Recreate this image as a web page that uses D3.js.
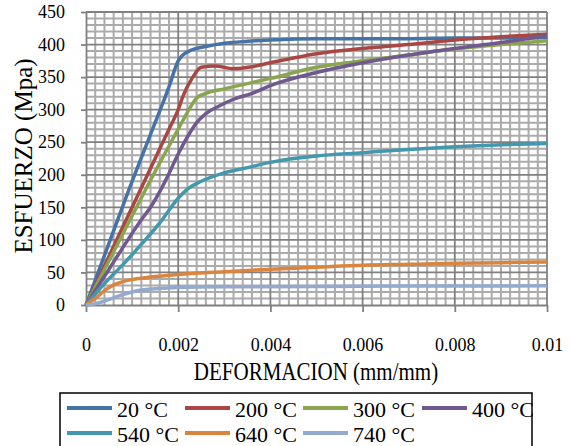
<!DOCTYPE html>
<html lang="es">
<head>
<meta charset="UTF-8"/>
<title>Esfuerzo - Deformacion</title>
<script src="https://d3js.org/d3.v7.min.js"></script>
<style>
  body { margin: 0; background: #fff; }
  text { font-family: "Liberation Serif", "Times New Roman", serif; fill: #000; }
</style>
</head>
<body>
<script>
// strain (mm/mm) and stress (MPa)
var xTicks = [0, 0.002, 0.004, 0.006, 0.008, 0.01];
var xTickLabels = ["0", "0.002", "0.004", "0.006", "0.008", "0.01"];
var yTicks = [0, 50, 100, 150, 200, 250, 300, 350, 400, 450];

var labels = ["20 °C", "200 °C", "300 °C", "400 °C", "540 °C", "640 °C", "740 °C"];
var colors = ["#4572A7", "#AA4643", "#89A54E", "#71588F", "#4198AF", "#DB843D", "#93A9CF"];

var s20 = [[0,0],[0.0005,95],[0.001,190],[0.0014,262],[0.0018,335],[0.002,375],[0.0021,384],[0.0023,392],
  [0.0026,397],[0.003,402],[0.0035,405],[0.004,407],[0.005,409],[0.006,409],[0.007,409],[0.008,410],[0.009,410],[0.01,411]];
var s200 = [[0,0],[0.0008,120],[0.0016,240],[0.0018,270],[0.002,300],[0.0021,320],[0.0023,348],[0.0025,365],
  [0.0028,367],[0.0032,363],[0.0036,366],[0.004,372],[0.005,386],[0.006,394],[0.007,400],[0.008,407],[0.009,412],[0.01,416]];
var s300 = [[0,0],[0.0005,68],[0.001,137],[0.0015,205],[0.002,270],[0.0022,296],[0.0024,318],[0.0026,325],
  [0.003,332],[0.0035,340],[0.004,348],[0.005,365],[0.006,375],[0.007,384],[0.008,393],[0.009,400],[0.01,406]];
var s400 = [[0,0],[0.0005,55],[0.001,110],[0.0012,131],[0.0014,150],[0.0016,174],[0.0018,202],[0.002,232],
  [0.0022,258],[0.0024,280],[0.0026,294],[0.0029,306],[0.0032,316],[0.0036,325],[0.004,337],[0.005,357],
  [0.006,372],[0.007,384],[0.008,394],[0.009,403],[0.01,414]];
var s540 = [[0,0],[0.0004,33],[0.0008,62],[0.0012,93],[0.0016,126],[0.002,164],[0.0022,178],[0.0025,190],
  [0.003,203],[0.0035,211],[0.004,219],[0.0045,225],[0.005,229],[0.006,234],[0.007,239],[0.008,243],[0.009,246],[0.01,248]];
var s640 = [[0,0],[0.0002,10],[0.0004,22],[0.0006,31],[0.0008,36],[0.001,39],[0.0014,43],[0.002,47],
  [0.003,51],[0.004,55],[0.005,58],[0.006,61],[0.007,62.5],[0.008,64],[0.009,65],[0.01,66]];
var s740 = [[0,0],[0.0002,2],[0.0004,6],[0.0006,11],[0.0008,16],[0.001,20],[0.0012,23],[0.0015,25],
  [0.002,27],[0.003,28],[0.005,28.5],[0.007,29],[0.01,29.5]];

var series = [s20, s200, s300, s400, s540, s640, s740];

var w = 572, h = 446;
var padL = 86, padR = 547, padT = 12, padB = 305;

var svg = d3.select("body").append("svg")
  .attr("width", w).attr("height", h);

var x = d3.scaleLinear().domain([0, 0.01]).range([padL, padR]);
var y = d3.scaleLinear().domain([0, 450]).range([padB, padT]);

/* grid: minor first, then major */
var g = svg.append("g");
g.selectAll(".vmin").data(d3.range(1, 50).filter(k => k % 10 != 0))
  .enter().append("line")
  .attr("x1", k => x(k * 0.0002)).attr("x2", k => x(k * 0.0002))
  .attr("y1", padT).attr("y2", padB)
  .attr("stroke", "#ababab").attr("stroke-width", 2);
g.selectAll(".hmin").data(d3.range(1, 45).filter(k => k % 5 != 0))
  .enter().append("line")
  .attr("x1", padL).attr("x2", padR)
  .attr("y1", k => y(k * 10)).attr("y2", k => y(k * 10))
  .attr("stroke", "#ababab").attr("stroke-width", 2);
g.selectAll(".vmaj").data(xTicks.slice(1))
  .enter().append("line")
  .attr("x1", d => x(d)).attr("x2", d => x(d))
  .attr("y1", padT).attr("y2", padB)
  .attr("stroke", "#808080").attr("stroke-width", 1.8);
g.selectAll(".hmaj").data(yTicks.slice(1))
  .enter().append("line")
  .attr("x1", padL).attr("x2", padR)
  .attr("y1", d => y(d)).attr("y2", d => y(d))
  .attr("stroke", "#808080").attr("stroke-width", 1.8);

/* axes */
var xAxis = d3.axisBottom(x).tickValues(xTicks)
  .tickFormat((d, i) => xTickLabels[i]).tickSize(7).tickSizeOuter(0).tickPadding(26);
var yAxis = d3.axisLeft(y).tickValues(yTicks).tickSize(5).tickSizeOuter(0).tickPadding(16);

var gx = svg.append("g").attr("transform", "translate(0," + padB + ")").call(xAxis);
var gy = svg.append("g").attr("transform", "translate(" + padL + ",0)").call(yAxis);
[gx, gy].forEach(function(a) {
  a.select(".domain").attr("stroke", "#808080").attr("stroke-width", 1.8);
  a.selectAll(".tick line").attr("stroke", "#808080").attr("stroke-width", 1.8);
  a.selectAll(".tick text").attr("font-size", 18).attr("fill", "#000");
});

/* curves */
var line = d3.line()
  .x(d => x(d[0]))
  .y(d => y(d[1]))
  .curve(d3.curveMonotoneX);

svg.selectAll(".serie").data(series)
  .enter().append("path")
  .attr("d", line)
  .attr("fill", "none")
  .attr("stroke", (d, i) => colors[i])
  .attr("stroke-width", 3.5)
  .attr("stroke-linejoin", "round");

/* axis titles */
svg.append("text")
  .attr("transform", "translate(316,380) scale(1,1.2)")
  .attr("text-anchor", "middle")
  .attr("font-size", 21)
  .text("DEFORMACION (mm/mm)");

svg.append("text")
  .attr("transform", "translate(32,156) rotate(-90)")
  .attr("text-anchor", "middle")
  .attr("font-size", 25)
  .text("ESFUERZO (Mpa)");

/* legend */
svg.append("rect")
  .attr("x", 60).attr("y", 393)
  .attr("width", 472).attr("height", 70)
  .attr("fill", "#fff").attr("stroke", "#000").attr("stroke-width", 1.5);

var legX = [67, 185, 303, 422];
var legY = [408, 433];
var leg = svg.selectAll(".leg").data(labels)
  .enter().append("g")
  .attr("transform", (d, i) => "translate(" + legX[i % 4] + "," + legY[Math.floor(i / 4)] + ")");
leg.append("line")
  .attr("x1", 0).attr("x2", 45).attr("y1", 0).attr("y2", 0)
  .attr("stroke", (d, i) => colors[i]).attr("stroke-width", 4);
leg.append("text")
  .attr("x", 50).attr("y", 8.5)
  .attr("font-size", 22)
  .text(d => d);
</script>
</body>
</html>
